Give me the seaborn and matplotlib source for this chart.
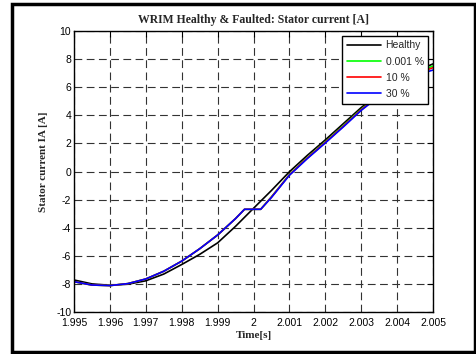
import pandas as pd
import seaborn as sns
import matplotlib.pyplot as plt
from matplotlib.patches import Rectangle

# values
t_healthy = [1.995, 1.9955, 1.996, 1.9965, 1.997, 1.9975, 1.998, 1.9985, 1.999, 1.9995, 2.0,
             2.0005, 2.001, 2.0015, 2.002, 2.0025, 2.003, 2.0035, 2.004, 2.0045, 2.005]
i_healthy = [-7.72, -8.00, -8.10, -8.02, -7.78, -7.30, -6.62, -5.90, -5.08, -3.90, -2.62,
             -1.35, -0.02, 1.15, 2.25, 3.40, 4.55, 5.55, 6.40, 7.10, 7.66]

t_fault = [1.995, 1.9955, 1.996, 1.9965, 1.997, 1.9975, 1.998, 1.9985, 1.999, 1.9995, 1.99975,
           2.0002, 2.0005, 2.001, 2.0015, 2.002, 2.0025, 2.003, 2.0035, 2.004, 2.0045, 2.005]
i_0001 = [-7.84, -8.08, -8.12, -7.98, -7.65, -7.10, -6.38, -5.50, -4.52, -3.35, -2.69,
          -2.69, -1.80, -0.22, 0.98, 2.10, 3.25, 4.42, 5.45, 6.32, 7.00, 7.51]
i_10 = [-7.84, -8.08, -8.12, -7.98, -7.65, -7.10, -6.38, -5.50, -4.52, -3.35, -2.69,
        -2.69, -1.82, -0.24, 0.96, 2.07, 3.21, 4.39, 5.41, 6.27, 6.92, 7.39]
i_30 = [-7.84, -8.08, -8.12, -7.98, -7.65, -7.10, -6.38, -5.50, -4.52, -3.35, -2.69,
        -2.69, -1.85, -0.27, 0.92, 2.03, 3.17, 4.35, 5.35, 6.20, 6.85, 7.22]

series_names = ["Healthy", "0.001 %", "10 %", "30 %"]
series_colors = ["black", "#00ff00", "red", "blue"]

x_ticks = [1.995, 1.996, 1.997, 1.998, 1.999, 2.0, 2.001, 2.002, 2.003, 2.004, 2.005]
x_tick_labels = ["1.995", "1.996", "1.997", "1.998", "1.999", "2", "2.001", "2.002", "2.003", "2.004", "2.005"]
y_ticks = [-10, -8, -6, -4, -2, 0, 2, 4, 6, 8, 10]

df = pd.concat([
    pd.DataFrame({"t": t_healthy, "i": i_healthy, "series": series_names[0]}),
    pd.DataFrame({"t": t_fault, "i": i_0001, "series": series_names[1]}),
    pd.DataFrame({"t": t_fault, "i": i_10, "series": series_names[2]}),
    pd.DataFrame({"t": t_fault, "i": i_30, "series": series_names[3]}),
], ignore_index=True)

sns.set_style("white")
plt.rcParams["font.family"] = ["Liberation Sans", "DejaVu Sans"]
plt.rcParams["axes.unicode_minus"] = False

fig = plt.figure(figsize=(4.77, 3.54), dpi=100)
ax = fig.add_axes([74 / 477, 1 - 312 / 354, 359 / 477, 281 / 354])

sns.lineplot(data=df, x="t", y="i", hue="series", hue_order=series_names,
             palette=series_colors, estimator=None, sort=False, lw=1.2, ax=ax)

ax.set_xlim(1.995, 2.005)
ax.set_ylim(-10, 10)
ax.set_xticks(x_ticks)
ax.set_xticklabels(x_tick_labels)
ax.set_yticks(y_ticks)
ax.tick_params(direction="in", top=True, right=True, length=4, width=0.8,
               labelsize=7.5, pad=2, colors="black")
ax.tick_params(axis="x", pad=4)
for sp in ax.spines.values():
    sp.set_color("black")
    sp.set_linewidth(1.0)

ax.grid(True, color="#333333", lw=0.8, linestyle=(0, (7, 4)))

serif = ["Liberation Serif", "DejaVu Serif"]
ax.set_title("WRIM Healthy & Faulted: Stator current [A]", fontsize=8.5, fontweight="bold",
             family=serif, pad=6)
ax.set_xlabel("Time[s]", fontsize=8, fontweight="bold", family=serif)
ax.set_ylabel("Stator current IA [A]", fontsize=8, fontweight="bold", family=serif)
ax.xaxis.set_label_coords(0.5, -0.068)
ax.yaxis.set_label_coords(-0.072, 0.534)

handles, labels = ax.get_legend_handles_labels()
leg = ax.legend(handles, labels, loc="upper right", fontsize=7.5, frameon=True,
                fancybox=False, framealpha=1, edgecolor="black", borderaxespad=0.45,
                handlelength=3.3, handletextpad=0.4, labelspacing=0.6, borderpad=0.45)
leg.get_frame().set_linewidth(1.0)

fig.add_artist(Rectangle((12 / 477, 1 - 352 / 354), 463 / 477, 348 / 354,
                         transform=fig.transFigure, fill=False, lw=2.5, ec="black"))

fig.savefig("out.png", dpi=100)
